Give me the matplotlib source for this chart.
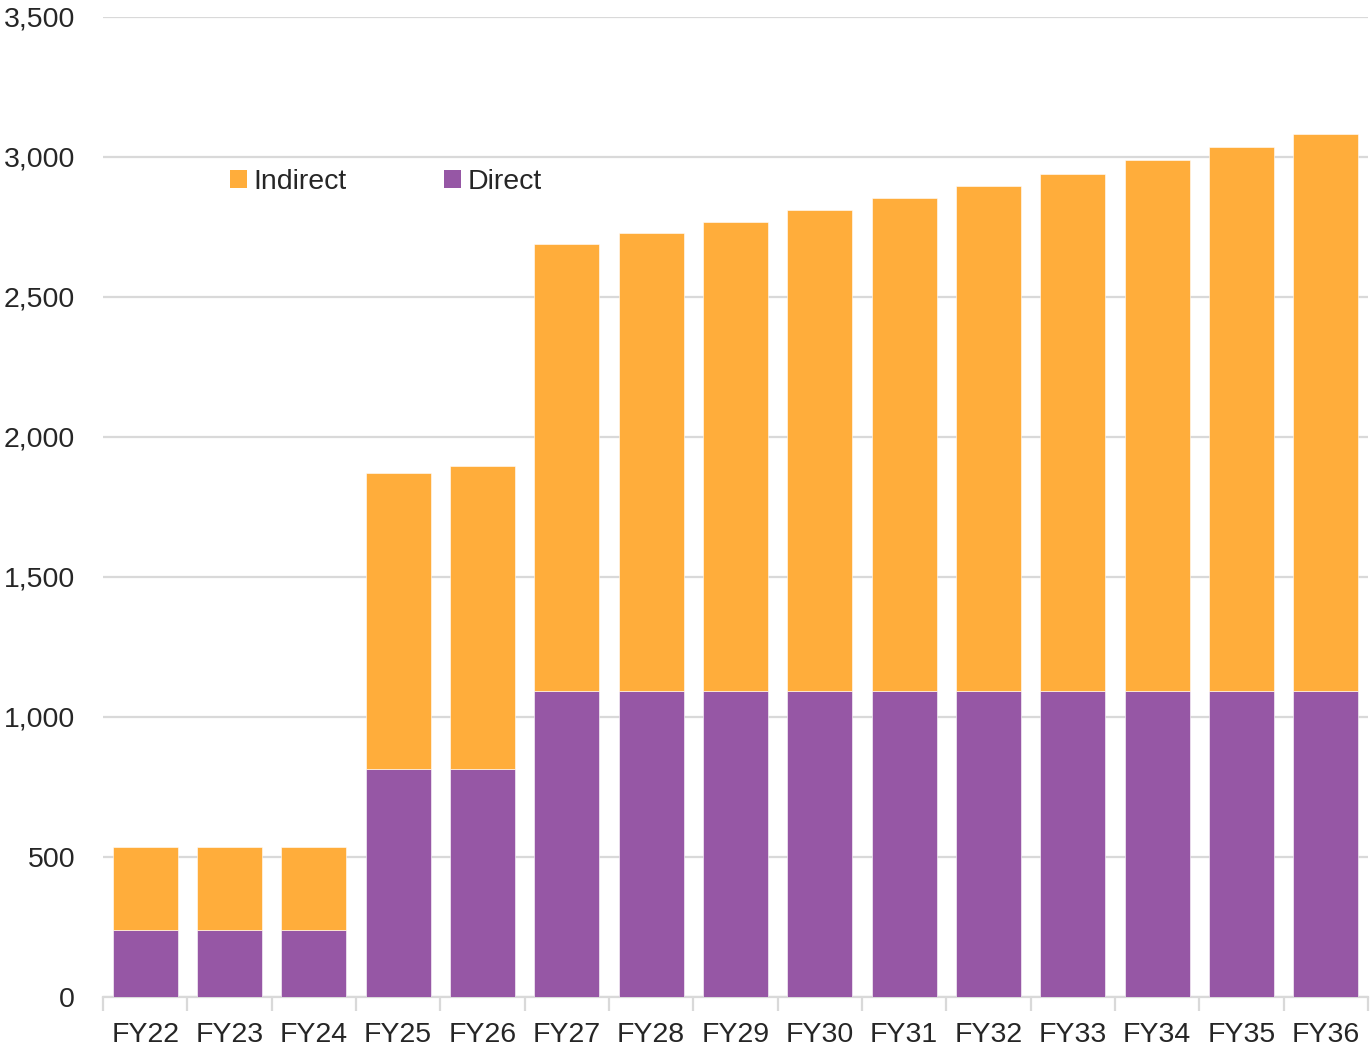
import matplotlib
matplotlib.use("Agg")
import matplotlib.pyplot as plt
from matplotlib.patches import Patch
from matplotlib.ticker import FuncFormatter, MultipleLocator, FixedLocator
import numpy as np

# Fiscal years and stacked components
years = ["FY22", "FY23", "FY24", "FY25", "FY26", "FY27", "FY28", "FY29",
         "FY30", "FY31", "FY32", "FY33", "FY34", "FY35", "FY36"]
direct = [240, 240, 240, 815, 815, 1093, 1093, 1093, 1093, 1093,
          1093, 1093, 1093, 1093, 1093]
indirect = [295, 295, 295, 1055, 1080, 1595, 1634, 1675, 1717, 1760,
            1803, 1848, 1895, 1941, 1989]

orange = "#FFAD3B"
purple = "#9657A5"
grid_col = "#D9D9D9"
text_col = "#262626"

plt.rcParams["font.family"] = ["Liberation Sans Narrow", "Liberation Sans", "DejaVu Sans"]

fig = plt.figure(figsize=(13.7, 10.5), dpi=100)
ax = fig.add_axes([103 / 1370, 53 / 1050, 1265 / 1370, 980 / 1050])

x = np.arange(len(years))
ax.bar(x, direct, width=0.77, color=purple, edgecolor="#FFFFFF", linewidth=0.4, zorder=3)
ax.bar(x, indirect, width=0.77, bottom=direct, color=orange, edgecolor="#FFFFFF",
       linewidth=0.4, zorder=3)

ax.set_xlim(-0.5, len(years) - 0.5)
ax.set_ylim(0, 3500)
ax.yaxis.set_major_locator(MultipleLocator(500))
ax.yaxis.set_major_formatter(FuncFormatter(lambda v, p: f"{int(v):,}"))
ax.grid(axis="y", color=grid_col, linewidth=1.6, zorder=0)
ax.set_axisbelow(True)

for s in ["top", "right", "left"]:
    ax.spines[s].set_visible(False)
ax.spines["bottom"].set_color(grid_col)
ax.spines["bottom"].set_linewidth(1.6)

ax.set_xticks(x)
ax.set_xticklabels(years)
ax.xaxis.set_minor_locator(FixedLocator(np.arange(-0.5, len(years), 1.0)))
ax.tick_params(axis="x", which="major", length=0, pad=18, labelsize=20.5, labelcolor=text_col)
ax.tick_params(axis="x", which="minor", length=10, width=1.6, color=grid_col)
ax.tick_params(axis="y", length=0, pad=20, labelsize=20.5, labelcolor=text_col)

handles = [Patch(facecolor=orange, label="Indirect"), Patch(facecolor=purple, label="Direct")]
ax.legend(handles=handles, loc="center left", bbox_to_anchor=(0.1, 0.832), ncol=2,
          frameon=False, fontsize=20.5, handlelength=0.6, handleheight=0.6,
          handletextpad=0.25, columnspacing=3.4, borderpad=0, borderaxespad=0,
          labelcolor=text_col)

fig.savefig("out.png", dpi=100)
